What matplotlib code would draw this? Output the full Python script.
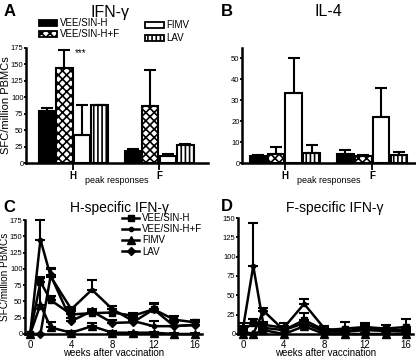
import matplotlib
matplotlib.use("Agg")
import matplotlib.pyplot as plt
from matplotlib.patches import Patch
from matplotlib.lines import Line2D
import numpy as np

plt.rcParams['font.family'] = ['Liberation Sans', 'DejaVu Sans']
plt.rcParams['hatch.linewidth'] = 1.2

groups = ["VEE/SIN-H", "VEE/SIN-H+F", "FIMV", "LAV"]
peaks = ["H", "F"]

# peak responses (H, F) per group
ifn_mean = [[79, 18], [144, 87], [43, 10], [88, 28]]
ifn_err = [[5, 3], [28, 54], [45, 4], [0, 1]]
il4_mean = [[3.2, 4.4], [4.4, 3.2], [33.5, 22.2], [4.8, 3.8]]
il4_err = [[0.8, 1.9], [3.4, 0.8], [16.5, 13.8], [3.6, 1.4]]

weeks = [0, 1, 2, 4, 6, 8, 10, 12, 14, 16]

# H-specific IFN-g time course
h_mean = {
    "VEE/SIN-H": [0, 80, 52, 30, 32, 33, 28, 38, 22, 18],
    "VEE/SIN-H+F": [0, 145, 88, 38, 68, 38, 20, 12, 12, 14],
    "FIMV": [0, 45, 10, 2, 12, 2, 2, 2, 0, 0],
    "LAV": [0, 0, 90, 20, 35, 17, 18, 38, 12, 14],
}
h_err = {
    "VEE/SIN-H": [0, 6, 6, 5, 5, 6, 5, 8, 6, 4],
    "VEE/SIN-H+F": [0, 30, 12, 4, 15, 5, 6, 8, 6, 5],
    "FIMV": [0, 42, 9, 2, 5, 2, 1, 1, 1, 1],
    "LAV": [0, 0, 12, 4, 4, 4, 4, 10, 8, 5],
}

# F-specific IFN-g time course
f_mean = {
    "VEE/SIN-H": [5, 14, 8, 5, 18, 5, 7, 9, 7, 9],
    "VEE/SIN-H+F": [8, 88, 12, 8, 39, 7, 3, 8, 5, 5],
    "FIMV": [0, 0, 5, 0, 10, 0, 0, 0, 0, 0],
    "LAV": [3, 0, 30, 5, 14, 3, 3, 5, 4, 3],
}
f_err = {
    "VEE/SIN-H": [5, 6, 5, 5, 9, 3, 9, 5, 5, 11],
    "VEE/SIN-H+F": [6, 55, 4, 6, 6, 3, 3, 3, 3, 3],
    "FIMV": [1, 1, 2, 1, 2, 1, 1, 1, 1, 1],
    "LAV": [2, 1, 3, 3, 4, 2, 2, 2, 2, 2],
}

bar_style = [dict(facecolor="black", hatch=None),
             dict(facecolor="white", hatch="xxxx"),
             dict(facecolor="white", hatch=None),
             dict(facecolor="white", hatch="||||")]
markers = {"VEE/SIN-H": ("s", 4), "VEE/SIN-H+F": ("o", 3),
           "FIMV": ("^", 6), "LAV": ("D", 4.5)}

W, H = 416, 359
fig = plt.figure(figsize=(W / 100, H / 100), dpi=100)


def box(l, r, t, b):
    return [l / W, 1 - b / H, (r - l) / W, (b - t) / H]


def style(ax, tick_fs=5.5):
    for s in ["top", "right"]:
        ax.spines[s].set_visible(False)
    for s in ["left", "bottom"]:
        ax.spines[s].set_linewidth(1.8)
    ax.tick_params(axis="y", direction="out", length=1.6, width=1.3,
                   labelsize=tick_fs, pad=0.2)
    ax.tick_params(axis="x", direction="out", width=1.3, pad=1)


def bars(ax, mean, err):
    x = np.array([1, 2])
    for i in range(4):
        xi = x + (i - 1.5) * 0.205
        ax.bar(xi, mean[i], width=0.19, edgecolor="black", linewidth=1.5,
               zorder=2, **bar_style[i])
        ax.errorbar(xi, mean[i], yerr=[np.zeros(2), err[i]], fmt="none",
                    ecolor="black", elinewidth=1.5, capsize=4, capthick=1.5, zorder=3)
    ax.set_xticks(x)
    ax.set_xticklabels(peaks, fontsize=7, fontweight="bold")
    ax.tick_params(axis="x", length=5)
    ax.set_xlabel("peak responses", fontsize=6.5)
    ax.xaxis.set_label_coords(0.5, -0.11)


# panel A
axA = fig.add_axes(box(26, 208, 48, 163))
bars(axA, ifn_mean, ifn_err)
axA.set_xlim(0.45, 2.57)
axA.set_ylim(0, 175)
axA.set_yticks(np.arange(0, 176, 25))
axA.set_ylabel("SFC/million PBMCs", fontsize=8)
axA.yaxis.set_label_coords(-0.08, 0.5)
axA.text(1 - 0.5 * 0.205 + 0.12, 168, "***", fontsize=7, va="center")
style(axA)
hs = [Patch(edgecolor="black", linewidth=1.3, **bar_style[i]) for i in range(4)]
leg_kw = dict(frameon=False, fontsize=7, handlelength=1.9, handleheight=0.65,
              handletextpad=0.25, borderaxespad=0, borderpad=0, loc="lower left")
leg1 = axA.legend(hs[:2], groups[:2], bbox_to_anchor=(0.071, 1.075),
                  labelspacing=0.1, **leg_kw)
axA.add_artist(leg1)
axA.legend(hs[2:], groups[2:], bbox_to_anchor=(0.654, 1.04),
           labelspacing=0.3, **leg_kw)

# panel B
axB = fig.add_axes(box(242, 415, 48, 163))
bars(axB, il4_mean, il4_err)
axB.set_xlim(0.51, 2.49)
axB.set_ylim(0, 55)
axB.set_yticks(np.arange(0, 51, 10))
style(axB)


def course(ax, mean, err):
    for g in groups:
        m, ms = markers[g]
        ax.errorbar(weeks, mean[g], yerr=[np.zeros(len(weeks)), err[g]],
                    color="black", lw=1.8, marker=m, ms=ms, capsize=3.5,
                    capthick=1.5, elinewidth=1.5, clip_on=False, zorder=3)
    ax.set_xlim(-0.5, 16.7)
    ax.set_xticks([0, 4, 8, 12, 16])
    ax.set_xlabel("weeks after vaccination", fontsize=7)
    ax.xaxis.set_label_coords(0.5, -0.125)


# panel C
axC = fig.add_axes(box(25, 202, 220, 334))
course(axC, h_mean, h_err)
axC.set_ylim(0, 175)
axC.set_yticks(np.arange(0, 176, 25))
axC.set_ylabel("SFC/million PBMCs", fontsize=7.2)
axC.yaxis.set_label_coords(-0.083, 0.5)
style(axC)
axC.tick_params(axis="x", labelsize=7, length=3)
lh = [Line2D([], [], color="black", lw=1.8, marker=markers[g][0], ms=markers[g][1])
      for g in groups]
axC.legend(lh, groups, loc="upper left", bbox_to_anchor=(0.548, 1.06), frameon=False,
           fontsize=7, handlelength=1.8, labelspacing=0.12, handletextpad=0.3,
           borderaxespad=0, borderpad=0)

# panel D
axD = fig.add_axes(box(238, 413, 218, 334))
course(axD, f_mean, f_err)
axD.set_ylim(0, 150)
axD.set_yticks(np.arange(0, 151, 25))
style(axD)
axD.tick_params(axis="x", labelsize=7, length=3)

# titles and panel letters
fig.text(110 / W, 1 - 12 / H, "IFN-γ", fontsize=11.5, ha="center", va="center")
fig.text(328 / W, 1 - 12 / H, "IL-4", fontsize=11.5, ha="center", va="center")
fig.text(119 / W, 1 - 208 / H, "H-specific IFN-γ", fontsize=10, ha="center", va="center")
fig.text(335 / W, 1 - 208 / H, "F-specific IFN-γ", fontsize=10, ha="center", va="center")
for lab, x, y in [("A", 10, 11), ("B", 227, 12), ("C", 9, 208), ("D", 227, 207)]:
    fig.text(x / W, 1 - y / H, lab, fontsize=12, fontweight="bold", ha="center", va="center")

fig.savefig("out.png", dpi=100)
